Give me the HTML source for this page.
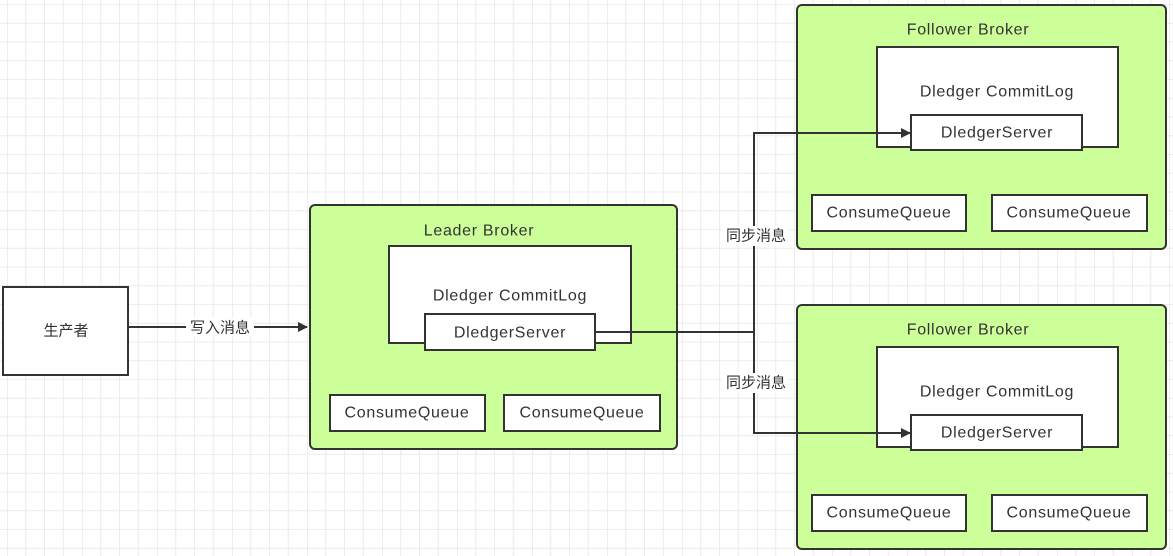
<!DOCTYPE html>
<html><head><meta charset="utf-8"><style>
html,body{margin:0;padding:0;background:#fff;}
svg{display:block;}
text{font-family:"Liberation Sans","Noto Sans CJK SC",sans-serif;font-size:16px;letter-spacing:0.7px;fill:#333;text-anchor:middle;dominant-baseline:central;}
text.c{letter-spacing:0;font-size:15px;}
</style></head><body>
<svg width="1173" height="556" viewBox="0 0 1173 556" xmlns="http://www.w3.org/2000/svg">
<defs>
<pattern id="g" x="7" y="4.5" width="75" height="75" patternUnits="userSpaceOnUse">
<path d="M0 0H75M0 18.75H75M0 37.5H75M0 56.25H75M0 0V75M18.75 0V75M37.5 0V75M56.25 0V75" stroke="#ececec" stroke-width="1" fill="none"/>
<path d="M0 0H75M0 0V75" stroke="#dedede" stroke-width="1" fill="none"/>
</pattern>
<marker id="a" markerWidth="10" markerHeight="10" refX="9" refY="5" orient="auto" markerUnits="userSpaceOnUse"><path d="M0 0L10 5L0 10Z" fill="#333"/></marker>
</defs>
<rect width="1173" height="556" fill="url(#g)"/>
<g stroke="#333" stroke-width="2">
<rect x="3" y="287" width="125" height="88" fill="#fff"/>
<line x1="128" y1="327" x2="307" y2="327" marker-end="url(#a)"/>

<rect x="310" y="205" width="367" height="244" rx="5" fill="#ccff99"/>
<rect x="389" y="246" width="242" height="97" fill="#fff"/>
<rect x="425" y="314" width="170" height="36" fill="#fff"/>
<rect x="330" y="395" width="155" height="36" fill="#fff"/>
<rect x="504" y="395" width="156" height="36" fill="#fff"/>

<rect x="797" y="5" width="369" height="244" rx="5" fill="#ccff99"/>
<rect x="877" y="47" width="241" height="100" fill="#fff"/>
<rect x="911" y="115" width="171" height="35" fill="#fff"/>
<rect x="812" y="195" width="154" height="36" fill="#fff"/>
<rect x="992" y="195" width="155" height="36" fill="#fff"/>

<rect x="797" y="305" width="369" height="244" rx="5" fill="#ccff99"/>
<rect x="877" y="347" width="241" height="100" fill="#fff"/>
<rect x="911" y="415" width="171" height="35" fill="#fff"/>
<rect x="812" y="495" width="154" height="36" fill="#fff"/>
<rect x="992" y="495" width="155" height="36" fill="#fff"/>

<polyline points="595,332 754,332 754,133 910,133" fill="none" marker-end="url(#a)"/>
<polyline points="754,332 754,433 910,433" fill="none" marker-end="url(#a)"/>
</g>
<rect x="186" y="318" width="68" height="18" fill="#fff"/>
<text class="c" x="220" y="328">写入消息</text>
<rect x="722" y="226" width="66" height="20" fill="#fff"/>
<text class="c" x="756" y="236">同步消息</text>
<rect x="722" y="373" width="66" height="20" fill="#fff"/>
<text class="c" x="756" y="383">同步消息</text>
<text class="c" x="66" y="331">生产者</text>

<text x="479" y="231">Leader Broker</text>
<text x="510" y="296">Dledger CommitLog</text>
<text x="510" y="333">DledgerServer</text>
<text x="407" y="413">ConsumeQueue</text>
<text x="582" y="413">ConsumeQueue</text>

<text x="968" y="30">Follower Broker</text>
<text x="997" y="92">Dledger CommitLog</text>
<text x="997" y="133">DledgerServer</text>
<text x="889" y="213">ConsumeQueue</text>
<text x="1069" y="213">ConsumeQueue</text>

<text x="968" y="330">Follower Broker</text>
<text x="997" y="392">Dledger CommitLog</text>
<text x="997" y="433">DledgerServer</text>
<text x="889" y="513">ConsumeQueue</text>
<text x="1069" y="513">ConsumeQueue</text>
</svg>
</body></html>
